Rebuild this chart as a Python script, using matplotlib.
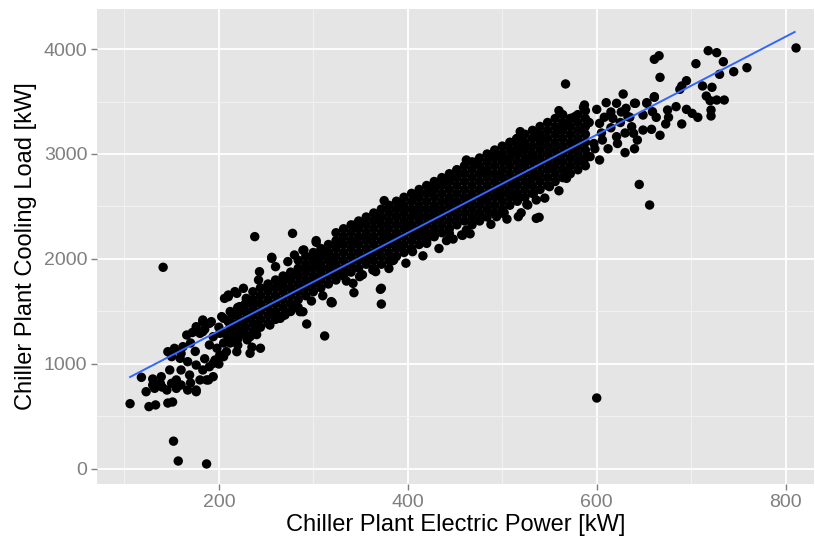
import numpy as np
import matplotlib.pyplot as plt

plt.rcParams['font.family'] = ['Liberation Sans', 'DejaVu Sans']

# single points (edges of the cloud and outliers), kW
pts_x = [106, 126, 133, 146, 151, 141, 152, 157, 187,
         118, 130, 139, 123, 132, 145, 155, 167, 176,
         148, 150, 146, 153, 162, 159, 167, 166, 176, 183, 190, 180, 190, 194, 176, 183, 190, 196, 187, 180, 169, 160, 194, 155, 150, 138,
         206, 210, 219, 203, 210, 206, 213, 208, 201, 219, 217, 219,
         233, 256, 293, 312, 319, 289, 280, 205, 194, 189, 176,
         160, 170, 175, 185, 200, 205, 198, 172, 185, 160, 170, 140, 130, 200,
         210, 215, 225, 230, 240, 225, 220, 235, 244,
         238, 278, 303, 289, 273, 256, 260, 243, 242, 226, 217, 210, 229, 222, 236, 252, 265, 261, 270, 282,
         293, 300, 314, 307, 319, 321, 319, 286, 270, 256, 236, 226, 205, 192, 183, 183, 201, 222, 242, 233, 254, 265,
         375, 390, 370, 351, 344, 332, 325, 303, 290, 411, 422, 429, 406, 388, 402, 356, 342, 374, 385, 420,
         405, 420, 385, 363, 372, 349, 342, 332, 321, 307, 296, 301, 314, 356, 367, 392, 413, 427,
         384, 343, 320, 371, 372, 458, 441,
         517, 536, 491, 501, 513, 522, 531, 462, 473, 452, 444, 437, 427, 409, 392, 483, 497, 511, 529, 536,
         527, 517, 536, 501, 494, 476, 462, 457, 444, 427, 409, 480, 462, 444, 497, 427, 413, 515,
         567, 560, 586, 610, 621, 640, 653, 661, 587, 577, 568, 519, 536, 547, 559, 586, 603, 617, 633, 639,
         630, 603, 593, 568, 568, 554, 533, 515, 504, 526, 550, 579, 606, 621, 586, 550, 533, 508, 600, 573,
         539, 526, 502, 515, 645, 656, 600, 811, 667,
         661, 666, 667, 718, 727, 734, 705, 759, 745, 730, 712, 722, 695, 690, 688, 716, 720, 727, 735, 721,
         721, 695, 701, 707, 684, 675, 676, 673, 690, 661, 653, 641, 628, 659, 663, 649, 658, 643, 637,
         631, 649, 625, 630, 622, 635, 640, 626, 615, 612, 608, 615, 597, 605, 592, 598,
         335, 352, 366, 380, 398, 416, 433, 448, 466, 488, 505, 520, 545, 560, 310, 298, 280]
pts_y = [622, 594, 610, 628, 638, 1921, 265, 76, 48,
         873, 857, 879, 736, 768, 752, 768, 752, 736,
         943, 1070, 1117, 1149, 1165, 1054, 1022, 1276, 1355, 1403, 1387, 1292, 1181, 1260, 990, 943, 974, 1038, 848, 848, 895, 943, 879, 848, 816, 816,
         1625, 1657, 1673, 1451, 1403, 1292, 1213, 1117, 1086, 1117, 1292, 1467,
         1102, 2016, 1381, 1267, 1584, 1498, 2038, 1070, 1006, 848, 752,
         1100, 1200, 1120, 1050, 1000, 1200, 1150, 1300, 1330, 800, 820, 780, 800, 1350,
         1250, 1350, 1300, 1230, 1280, 1400, 1180, 1160, 1150,
         2213, 2244, 2159, 2083, 1975, 2006, 1927, 1879, 1800, 1721, 1689, 1641, 1625, 1546, 1610, 1721, 1737, 1784, 1816, 1863,
         1927, 1990, 2022, 2054, 1959, 1863, 1594, 1498, 1467, 1483, 1467, 1530, 1435, 1403, 1419, 1308, 1292, 1308, 1355, 1260, 1371, 1435,
         2556, 2521, 2400, 2346, 2324, 2213, 2165, 2175, 2086, 2594, 2635, 2689, 2451, 2403, 2324, 2181, 2149, 2244, 2181, 2213,
         2070, 2149, 1990, 1895, 1721, 1832, 1768, 1895, 1990, 1927, 1784, 1990, 2086, 2022, 2086, 2117, 2276, 2403,
         1984, 1679, 1584, 1711, 1571, 2225, 2175,
         3140, 3181, 2990, 2943, 3006, 2911, 2975, 2943, 2927, 2848, 2752, 2721, 2673, 2594, 2514, 2832, 2800, 2737, 2721, 2562,
         2514, 2403, 2387, 2435, 2403, 2371, 2276, 2229, 2244, 2244, 2244, 2578, 2562, 2562, 2625, 2467, 2403, 2594,
         3667, 3413, 3444, 3489, 3483, 3483, 3483, 3540, 3467, 3356, 3292, 3213, 3197, 3149, 3228, 3228, 3292, 3340, 3356, 3197,
         3013, 2943, 2975, 2816, 2768, 2879, 2784, 3038, 2943, 3070, 3038, 3070, 3133, 3165, 2943, 2689, 2625, 2657, 3425, 3340,
         2397, 2521, 2441, 3143, 2710, 2514, 676, 4010, 3178,
         3902, 3936, 3730, 3984, 3965, 3879, 3860, 3822, 3784, 3759, 3648, 3635, 3698, 3648, 3616, 3552, 3508, 3514, 3514, 3419,
         3362, 3425, 3387, 3349, 3451, 3419, 3349, 3286, 3286, 3546, 3489, 3483, 3571, 3403, 3349, 3371, 3235, 3133, 3260,
         3435, 3228, 3300, 3200, 3100, 3350, 3050, 3400, 3250, 3050, 3350, 3400, 3100, 3200, 3300, 3050,
         1790, 1850, 1880, 1910, 1960, 2030, 2100, 2190, 2240, 2330, 2380, 2440, 2580, 2650, 1650, 1600, 1540]

# dense core of the cloud, read as columns of points
band_x = [212, 220, 228, 236, 244, 252, 260, 268, 276, 284, 292, 300, 308, 316, 324, 332,
          340, 348, 356, 364, 372, 380, 388, 396, 404, 412, 420, 428, 436, 444, 452, 460,
          468, 476, 484, 492, 500, 508, 516, 524, 532, 540, 548, 556, 564, 572, 580, 588]
band_y = [
    [1200, 1275, 1350, 1425, 1500],
    [1238, 1312, 1388, 1462, 1538],
    [1275, 1350, 1425, 1500, 1575],
    [1312, 1388, 1462, 1538, 1612, 1688],
    [1350, 1425, 1500, 1575, 1650, 1725],
    [1388, 1462, 1538, 1612, 1688, 1762],
    [1425, 1500, 1575, 1650, 1725, 1800],
    [1462, 1538, 1612, 1688, 1762, 1838],
    [1500, 1575, 1650, 1725, 1800, 1875],
    [1538, 1612, 1688, 1762, 1838, 1912, 1988],
    [1650, 1725, 1800, 1875, 1950, 2025],
    [1688, 1762, 1838, 1912, 1988, 2062],
    [1725, 1800, 1875, 1950, 2025, 2100],
    [1762, 1838, 1912, 1988, 2062, 2138],
    [1800, 1875, 1950, 2025, 2100, 2175, 2250],
    [1838, 1912, 1988, 2062, 2138, 2212, 2288],
    [1875, 1950, 2025, 2100, 2175, 2250, 2325],
    [1912, 1988, 2062, 2138, 2212, 2288, 2362],
    [1950, 2025, 2100, 2175, 2250, 2325, 2400],
    [1912, 1988, 2062, 2138, 2212, 2288, 2362, 2438],
    [1950, 2025, 2100, 2175, 2250, 2325, 2400, 2475],
    [1988, 2062, 2138, 2212, 2288, 2362, 2438, 2512],
    [2025, 2100, 2175, 2250, 2325, 2400, 2475, 2550],
    [2062, 2138, 2212, 2288, 2362, 2438, 2512, 2588],
    [2100, 2175, 2250, 2325, 2400, 2475, 2550, 2625],
    [2138, 2212, 2288, 2362, 2438, 2512, 2588, 2662],
    [2175, 2250, 2325, 2400, 2475, 2550, 2625, 2700],
    [2212, 2288, 2362, 2438, 2512, 2588, 2662, 2738],
    [2250, 2325, 2400, 2475, 2550, 2625, 2700, 2775],
    [2288, 2362, 2438, 2512, 2588, 2662, 2738, 2812],
    [2325, 2400, 2475, 2550, 2625, 2700, 2775, 2850],
    [2362, 2438, 2512, 2588, 2662, 2738, 2812, 2888],
    [2325, 2400, 2475, 2550, 2625, 2700, 2775, 2850, 2925],
    [2362, 2438, 2512, 2588, 2662, 2738, 2812, 2888, 2962],
    [2400, 2475, 2550, 2625, 2700, 2775, 2850, 2925, 3000],
    [2438, 2512, 2588, 2662, 2738, 2812, 2888, 2962, 3038],
    [2475, 2550, 2625, 2700, 2775, 2850, 2925, 3000, 3075],
    [2512, 2588, 2662, 2738, 2812, 2888, 2962, 3038, 3112],
    [2550, 2625, 2700, 2775, 2850, 2925, 3000, 3075, 3150],
    [2588, 2662, 2738, 2812, 2888, 2962, 3038, 3112, 3188],
    [2625, 2700, 2775, 2850, 2925, 3000, 3075, 3150, 3225],
    [2662, 2738, 2812, 2888, 2962, 3038, 3112, 3188, 3262],
    [2700, 2775, 2850, 2925, 3000, 3075, 3150, 3225, 3300],
    [2738, 2812, 2888, 2962, 3038, 3112, 3188, 3262, 3338],
    [2775, 2850, 2925, 3000, 3075, 3150, 3225, 3300, 3375],
    [2812, 2888, 2962, 3038, 3112, 3188, 3262, 3338],
    [2850, 2925, 3000, 3075, 3150, 3225, 3300, 3375],
    [2888, 2962, 3038, 3112, 3188, 3262, 3338, 3412],
]

# linear fit line, end points
fit_x = [106, 809.5]
fit_y = [876, 4162]

core_x = [x for x, ys in zip(band_x, band_y) for _ in ys]
core_y = [y for ys in band_y for y in ys]
power = np.array(pts_x + core_x)
cooling = np.array(pts_y + core_y)

fig = plt.figure(figsize=(8.15, 5.42), dpi=100)
ax = fig.add_axes([97/815, 1 - 484/542, 717/815, 475/542])
ax.set_facecolor('#E5E5E5')

ax.scatter(power, cooling, s=46, color='black', edgecolors='none', zorder=3)
ax.plot(fit_x, fit_y, color='#3366FF', lw=1.4, zorder=4)

ax.set_xlim(71, 830)
ax.set_ylim(-143, 4381)
ax.set_xticks([200, 400, 600, 800])
ax.set_xticks([100, 300, 500, 700], minor=True)
ax.set_yticks([0, 1000, 2000, 3000, 4000])
ax.set_yticks([500, 1500, 2500, 3500], minor=True)
ax.grid(which='major', color='white', lw=1.3)
ax.grid(which='minor', color='#F2F2F2', lw=0.7)
ax.set_axisbelow(True)
for s in ax.spines.values():
    s.set_visible(False)
ax.tick_params(which='major', colors='#7F7F7F', length=4, width=1, labelsize=14, pad=3)
ax.tick_params(which='minor', length=0)

ax.set_xlabel('Chiller Plant Electric Power [kW]', fontsize=17, labelpad=2)
ax.set_ylabel('Chiller Plant Cooling Load [kW]', fontsize=17, labelpad=5)

plt.savefig('out.png', dpi=100)
